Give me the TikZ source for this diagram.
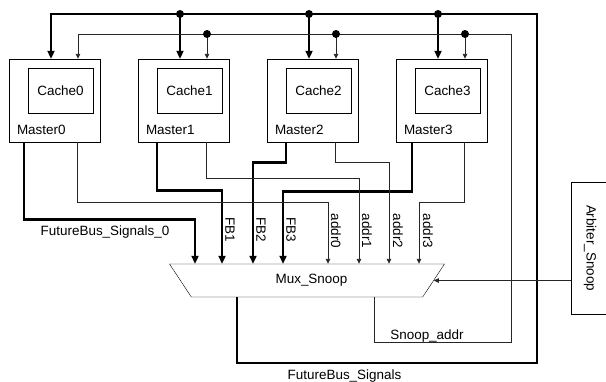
\documentclass[tikz,border=0pt]{standalone}
\usepackage{fontspec}
\setmainfont{Liberation Sans}
\usepackage{graphicx}
\usetikzlibrary{arrows.meta,shapes.geometric,positioning}

\begin{document}
\begin{tikzpicture}[
    x=1bp, y=-1bp,
    font=\fontsize{13.5}{16}\selectfont,
    master/.style={draw, minimum width=91bp, minimum height=83bp, inner sep=0},
    cache/.style={draw, minimum width=65bp, minimum height=45bp, inner sep=0},
    mux/.style={draw, trapezium, shape border rotate=180, trapezium angle=58, trapezium stretches=true,
        minimum width=277bp, minimum height=33bp, inner sep=0},
    lbl/.style={inner sep=0},
    vlbl/.style={inner sep=0, rotate=-90},
    fbus/.style={line width=2.6bp},
    sig/.style={line width=0.9bp, black!85},
    fbarr/.style={fbus, -{Triangle[length=8bp,width=7bp]}},
    sigarr/.style={sig, -{Triangle[length=5bp,width=4.5bp]}}
]
\useasboundingbox (0,0) rectangle (606,381);

% masters with their caches
\foreach \i in {0,...,3} {
    \node[master] (m\i) at (54.5+129*\i,100.5) {};
    \node[cache] (c\i) at (60.5+129*\i,90.5) {Cache\i};
    \node[lbl, anchor=west] (ml\i) at ([xshift=8bp,yshift=12bp]m\i.south west) {Master\i};
    \coordinate (tk\i) at ([xshift=-3.5bp]m\i.north);
    \coordinate (tt\i) at ([xshift=23.5bp]m\i.north);
}

\node[mux] (mux) at (307,280.5) {\hspace*{9bp}Mux\_Snoop};
\node[lbl, draw, minimum width=38bp, minimum height=132bp] (arb) at (590,248) {\rotatebox{-90}{Arbiter\_Snoop}};

% inputs of the mux
\foreach \d [count=\i from 0] in {-112,-85,-54,-24}
    \coordinate (fb\i) at ([xshift=\d bp]mux.north);
\foreach \d [count=\i from 0] in {21,52,82,112}
    \coordinate (ad\i) at ([xshift=\d bp]mux.north);

% FutureBus lines
\draw[fbarr] ([xshift=15bp]m0.south west) -- ++(0,77) -| (fb0);
\draw[fbarr] ([xshift=19bp]m1.south west) -- ++(0,48) -| (fb1);
\draw[fbarr] ([xshift=19bp]m2.south west) -- ++(0,20) -| (fb2);
\draw[fbarr] ([xshift=16bp]m3.south west) -- ++(0,49) -| (fb3);

% address lines
\draw[sigarr] ([xshift=69bp]m0.south west) -- ++(0,60) -| (ad0);
\draw[sigarr] ([xshift=69bp]m1.south west) -- ++(0,36) -| (ad1);
\draw[sigarr] ([xshift=69bp]m2.south west) -- ++(0,20) -| (ad2);
\draw[sigarr] ([xshift=69bp]m3.south west) -- ++(0,60) -| (ad3);

\node[lbl] (fbs0) at (105,232) {FutureBus\_Signals\_0};
\foreach \x [count=\i] in {230,261,291}
    \node[vlbl] (fbl\i) at (\x,230) {FB\i};
\foreach \x [count=\i from 0] in {336,367,398,428}
    \node[vlbl] (adl\i) at (\x,231) {addr\i};

% FutureBus_Signals back to the masters
\coordinate (fbT) at (537,14);
\coordinate (fbB) at (537,363);
\draw[fbarr] ([xshift=-70bp]mux.south) |- (fbB) -- (fbT) -| (tk0);
\foreach \i in {1,2,3} {
    \draw[fbarr] (tk\i |- fbT) -- (tk\i);
    \fill (tk\i |- fbT) circle (4bp);
}
\node[lbl] (fbs) at (344.5,376) {FutureBus\_Signals};

% Snoop_addr back to the masters
\coordinate (snT) at (511,34);
\coordinate (snB) at (511,342);
\draw[sigarr] ([xshift=67bp]mux.south) |- (snB) -- (snT) -| (tt0);
\foreach \i in {1,2,3} {
    \draw[sigarr] (tt\i |- snT) -- (tt\i);
    \fill (tt\i |- snT) circle (4bp);
}
\node[lbl] (sna) at (427,336) {Snoop\_addr};

\draw[sigarr] (arb.west |- mux.east) -- (mux.east);
\end{tikzpicture}
\end{document}
